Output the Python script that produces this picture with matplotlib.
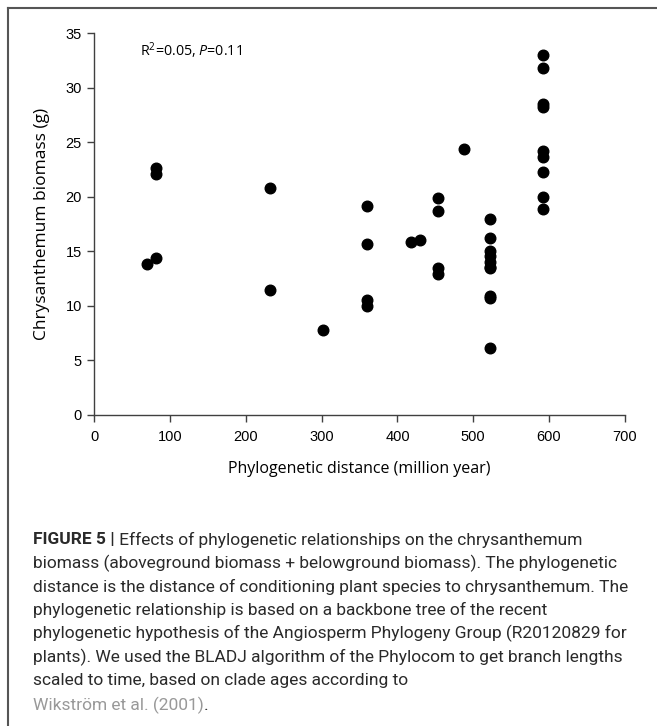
import matplotlib
matplotlib.use("Agg")
import matplotlib.pyplot as plt
from matplotlib.lines import Line2D

# phylogenetic distance (million year) and chrysanthemum biomass (g)
distance = [70, 81.5, 81.5, 81.5,
            232.5, 232.5,
            302,
            360, 360, 360, 360,
            418, 430,
            453, 453, 453, 453,
            487.5,
            522, 522, 522, 522, 522, 522, 522, 522, 522, 522,
            592, 592, 592, 592, 592, 592, 592, 592, 592]
biomass = [13.8, 22.6, 22.1, 14.4,
           20.8, 11.45,
           7.8,
           19.15, 15.7, 10.55, 10.0,
           15.85, 16.05,
           19.9, 18.65, 13.45, 12.9,
           24.35,
           17.95, 16.2, 15.0, 14.6, 14.05, 13.6, 13.5, 10.9, 10.7, 6.1,
           33.0, 31.8, 28.5, 28.2, 24.2, 23.65, 22.3, 20.0, 18.9]

xticks = [0, 100, 200, 300, 400, 500, 600, 700]
yticks = [0, 5, 10, 15, 20, 25, 30, 35]

caption_lines = [
    "biomass (aboveground biomass + belowground biomass). The phylogenetic",
    "distance is the distance of conditioning plant species to chrysanthemum. The",
    "phylogenetic relationship is based on a backbone tree of the recent",
    "phylogenetic hypothesis of the Angiosperm Phylogeny Group (R20120829 for",
    "plants). We used the BLADJ algorithm of the Phylocom to get branch lengths",
    "scaled to time, based on clade ages according to",
]

plt.rcParams["mathtext.fontset"] = "custom"
plt.rcParams["mathtext.rm"] = "Open Sans"
plt.rcParams["mathtext.it"] = "Open Sans:italic"

fig = plt.figure(figsize=(6.57, 7.26), dpi=100)
ax = fig.add_axes([0.1435, 0.4284, 0.951 - 0.1435, 0.9545 - 0.4284])

ax.scatter(distance, biomass, s=58, color="black", zorder=3)

ax.set_xlim(0, 700)
ax.set_ylim(0, 35)
ax.set_xticks(xticks)
ax.set_yticks(yticks)
ax.spines["top"].set_visible(False)
ax.spines["right"].set_visible(False)
for sp in ("left", "bottom"):
    ax.spines[sp].set_color("#404040")
    ax.spines[sp].set_linewidth(1.0)
ax.tick_params(direction="out", length=5, width=1, color="#404040",
               labelsize=10.5, pad=4)
for lab in ax.get_xticklabels() + ax.get_yticklabels():
    lab.set_family("Liberation Sans")
ax.tick_params(axis="x", pad=6)

ax.set_xlabel("Phylogenetic distance (million year)", family="Open Sans",
              fontsize=11.5, labelpad=12)
ax.set_ylabel("Chrysanthemum biomass (g)", family="Open Sans",
              fontsize=12.5, labelpad=11)

ax.text(0.087, 0.955, r"R$^{2}$=0.05, $\mathit{P}$=0.11", transform=ax.transAxes,
        family="Open Sans", fontsize=10.3, va="center", ha="left")

# outer frame (top and left)
fig.add_artist(Line2D([8 / 657, 1], [1 - 8 / 726, 1 - 8 / 726],
                      transform=fig.transFigure, color="#555555", lw=1.5))
fig.add_artist(Line2D([8 / 657, 8 / 657], [0, 1 - 8 / 726],
                      transform=fig.transFigure, color="#555555", lw=1.5))

# caption
x0 = 33 / 657
y0 = 540
step = 23.4
cap_font = dict(family="Roboto", fontsize=12.5, color="#2a2a2a", va="center")
bold = fig.text(x0, 1 - y0 / 726, "FIGURE 5 |", fontweight="bold", **cap_font)
ax.annotate(" Effects of phylogenetic relationships on the chrysanthemum",
            xy=(1, 0.5), xycoords=bold, ha="left", annotation_clip=False,
            **cap_font)
for i, line in enumerate(caption_lines):
    fig.text(x0, 1 - (y0 + step * (i + 1)) / 726, line, **cap_font)
yl = 1 - (y0 + step * 7 + 2) / 726
ref = fig.text(x0, yl, "Wikstr\u00f6m et al. (2001)", family="Roboto",
               fontsize=12.5, color="#999999", va="center")
ax.annotate(".", xy=(1, 0.5), xycoords=ref, ha="left", annotation_clip=False,
            **cap_font)

fig.savefig("out.png", dpi=100)
